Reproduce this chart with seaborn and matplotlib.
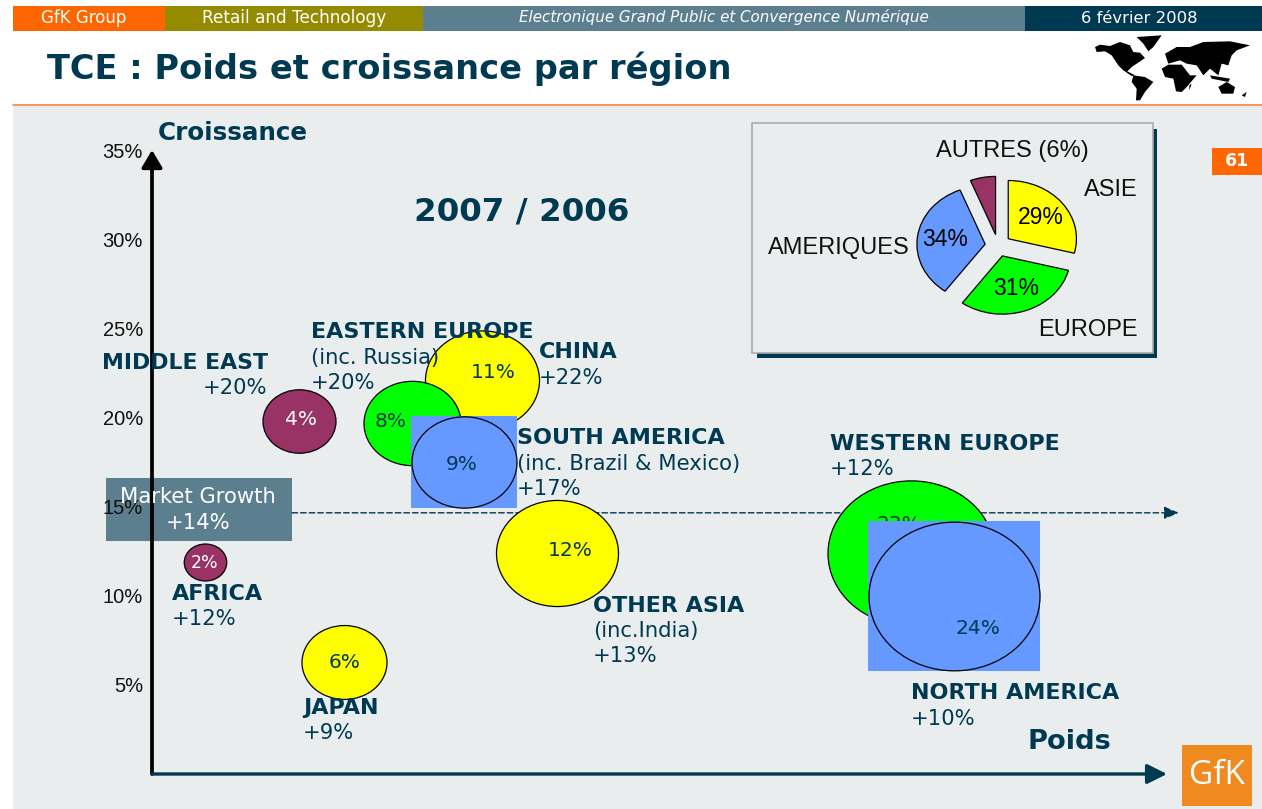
import matplotlib
matplotlib.use("Agg")
import matplotlib.pyplot as plt
import pandas as pd
import seaborn as sns
from matplotlib.patches import Polygon, Rectangle
from matplotlib.path import Path
from matplotlib.transforms import Affine2D

# bubble chart data
regions = ["Middle East", "Africa", "Japan", "Other Asia", "China", "Eastern Europe",
           "South America", "Western Europe", "North America"]
weight_pos = [14.5, 5.2, 18.9, 39.9, 32.5, 25.6, 30.7, 74.8, 79.0]
growth_pos = [19.8, 11.9, 6.3, 12.4, 22.1, 19.7, 17.5, 12.4, 10.0]
shares = [4, 2, 6, 12, 11, 8, 9, 23, 24]
groups = ["Autres", "Autres", "Asie", "Asie", "Asie", "Europe", "Ameriques", "Europe", "Ameriques"]
market_growth = 14.65

y_ticks = [5, 10, 15, 20, 25, 30, 35]
y_tick_labels = ["5%", "10%", "15%", "20%", "25%", "30%", "35%"]

# pie inset
pie_labels = ["ASIE", "EUROPE", "AMERIQUES", "AUTRES (6%)"]
pie_values = [29, 31, 34, 6]

NAVY = "#003a52"
SLATE = "#5b7f8f"
ORANGE = "#ff6600"
PANEL = "#e9edee"
group_colors = {"Asie": "#ffff00", "Europe": "#00ff00", "Ameriques": "#6699ff", "Autres": "#993366"}
# bubble width in pixels for each share
share_width = {2: 42.5, 4: 73, 6: 85, 8: 97, 9: 105, 11: 114, 12: 122, 23: 167, 24: 171}
# the two regions that have a blue box behind the bubble
boxed = ["South America", "North America"]

sns.set_theme(style="white")
plt.rcParams["font.family"] = ["DejaVu Sans"]

W, H = 1262, 809
fig = plt.figure(figsize=(W / 100, H / 100), dpi=100)
fig.patch.set_facecolor("white")


def axes_px(left, top, right, bottom, **kw):
    return fig.add_axes([left / W, 1 - bottom / H, (right - left) / W, (bottom - top) / H], **kw)


# background layer, pixel coordinates
bg = axes_px(0, 0, W, H, zorder=0)
bg.set_xlim(0, W)
bg.set_ylim(H, 0)
bg.axis("off")


def box(ax, x0, y0, x1, y1, color, **kw):
    ax.add_patch(Rectangle((x0, y0), x1 - x0, y1 - y0, facecolor=color, edgecolor=kw.pop("edgecolor", "none"), **kw))


box(bg, 13, 105, W, H, PANEL)
bg.plot([13, W], [104.5, 104.5], color="#ff7f3f", lw=1.2)
box(bg, 13, 6, 165, 31, ORANGE)
box(bg, 165, 6, 423, 31, "#948b00")
box(bg, 423, 6, 1025, 31, SLATE)
box(bg, 1025, 6, W, 31, NAVY)
box(bg, 1212, 148, 1262, 175, ORANGE)
box(bg, 1182, 745, 1252, 806, "#f08a20")
box(bg, 105.5, 478, 292, 541, SLATE)
# inset frame with its shadow
box(bg, 757, 129, 1157, 358, NAVY)
box(bg, 752, 123, 1153, 353, PANEL, edgecolor="#aaaaaa", linewidth=1.2)

# rough world map top right
world = [
    [(15, 45), (30, 38), (60, 42), (90, 30), (120, 40), (130, 60), (150, 62), (165, 78), (140, 95), (125, 105),
     (112, 118), (135, 130), (125, 132), (100, 115), (85, 100), (65, 70), (45, 58), (20, 60)],
    [(140, 15), (215, 10), (190, 45), (175, 58), (160, 35)],
    [(130, 130), (165, 135), (190, 150), (165, 180), (150, 205), (138, 205), (140, 170), (125, 150)],
    [(215, 110), (235, 98), (275, 98), (300, 130), (320, 130), (290, 165), (275, 180), (258, 178), (250, 140), (225, 135)],
    [(225, 65), (260, 45), (300, 45), (340, 30), (420, 28), (480, 40), (440, 55), (425, 70), (415, 100), (395, 95),
     (385, 130), (360, 110), (340, 130), (320, 100), (290, 95), (270, 85), (235, 95)],
    [(385, 165), (410, 150), (435, 165), (430, 185), (395, 185)],
    [(360, 130), (420, 140), (415, 150), (365, 140)],
    [(455, 190), (470, 180), (465, 195)],
    [(298, 160), (305, 155), (298, 175)],
]
for shape in world:
    bg.add_patch(Polygon([(1090 + a / 3, 32 + b / 3) for a, b in shape], closed=True, color="black", lw=0))

# main chart
ax = axes_px(152, 150, 1167, 774, zorder=1)
ax.patch.set_alpha(0)
ax.set_xlim(0, 100)
ax.set_ylim(0, 35)
sns.despine(ax=ax, left=True, bottom=True, top=True, right=True)
ax.set_xticks([])
ax.set_yticks(y_ticks)
ax.set_yticklabels(y_tick_labels, fontfamily="Liberation Sans", fontsize=14.5, color="#111111")
ax.tick_params(axis="y", length=0, pad=6.5)
ax.grid(False)

ax.annotate("", xy=(0, 1), xytext=(0, 0), xycoords="axes fraction",
            arrowprops=dict(arrowstyle="-|>,head_length=1.05,head_width=0.62", mutation_scale=10,
                            lw=2.7, color="black", shrinkA=0, shrinkB=0), zorder=30)
ax.annotate("", xy=(1, 0), xytext=(0, 0), xycoords="axes fraction",
            arrowprops=dict(arrowstyle="-|>,head_length=1.2,head_width=0.6", mutation_scale=10,
                            lw=2.4, color=NAVY, shrinkA=0, shrinkB=0), zorder=30)
ax.annotate("", xy=(1.0118, market_growth), xytext=(0.1379, market_growth),
            xycoords=("axes fraction", "data"),
            arrowprops=dict(arrowstyle="-|>,head_length=1.0,head_width=0.42", mutation_scale=9,
                            lw=1, ls=(0, (4, 2.2)), color=NAVY, shrinkA=0, shrinkB=0), zorder=0.5)

df = pd.DataFrame({"region": regions, "weight": weight_pos, "growth": growth_pos,
                   "share": shares, "group": groups})

RATIO = 1.15
ellipse = Path.unit_circle().transformed(Affine2D().scale(RATIO, 1))
rect = Path.unit_rectangle().transformed(Affine2D().translate(-0.5, -0.5).scale(RATIO, 1))

for i, row in df.iterrows():
    one = df.iloc[[i]]
    w_pt = share_width[row["share"]] * 0.72
    color = group_colors[row["group"]]
    if row["region"] in boxed:
        sns.scatterplot(data=one, x="weight", y="growth", ax=ax, marker=rect, s=(w_pt + 0.8) ** 2,
                        color=color, edgecolor="none", linewidth=0, legend=False, zorder=2 * i + 2.2, clip_on=False)
    sns.scatterplot(data=one, x="weight", y="growth", ax=ax, marker=ellipse, s=w_pt ** 2,
                    color=color, edgecolor="black", linewidth=0.9, legend=False, zorder=2 * i + 2.4, clip_on=False)
ax.set_xlim(0, 100)
ax.set_ylim(0, 35)
ax.set_xlabel("")
ax.set_ylabel("")

# top layer, pixel coordinates: every label
top = axes_px(0, 0, W, H, zorder=3)
top.patch.set_alpha(0)
top.set_xlim(0, W)
top.set_ylim(H, 0)
top.axis("off")

# share inside each bubble, drawn in the main axes so the next box can hide it
share_xy = [(301, 419), (205, 563), (345, 662), (570, 551), (493, 372), (391, 421), (462, 464), (899, 525), (978, 628)]
for i, (share, xy) in enumerate(zip(shares, share_xy)):
    ink = "white" if groups[i] == "Autres" else NAVY
    size = 12.5 if share == 2 else 14.5
    ax.text(xy[0], xy[1], f"{share}%", transform=top.transData, ha="center", va="center",
            fontsize=size, color=ink, zorder=2 * i + 3)


def label(x, y, s, bold=False, size=15.2, color=NAVY, ha="left", **kw):
    top.text(x, y, s, ha=ha, va="center", fontsize=size, color=color,
             fontweight="bold" if bold else "normal", **kw)


label(311, 332, "EASTERN EUROPE", True, 16)
label(311, 358, "(inc. Russia)")
label(311, 383, "+20%")
label(539, 352, "CHINA", True, 16)
label(539, 378, "+22%")
label(517, 438, "SOUTH AMERICA", True, 16)
label(517, 464, "(inc. Brazil & Mexico)")
label(517, 489, "+17%")
label(830, 444, "WESTERN EUROPE", True, 16)
label(830, 469, "+12%")
label(102, 363, "MIDDLE EAST", True, 15.8)
label(203, 388, "+20%")
label(172, 594, "AFRICA", True, 16)
label(172, 619, "+12%")
label(593, 606, "OTHER ASIA", True, 16)
label(593, 631, "(inc.India)")
label(593, 656, "+13%")
label(303, 708, "JAPAN", True, 16)
label(303, 733, "+9%")
label(911, 693, "NORTH AMERICA", True, 16)
label(911, 719, "+10%")
label(198, 497, "Market Growth", color="white", ha="center")
label(198, 523, "+14%", color="white", ha="center")
label(158, 133, "Croissance", True, 17.7)
label(1027, 742, "Poids", True, 19.7)
label(414, 212, "2007 / 2006", True, 23.4)
label(47, 69, "TCE : Poids et croissance par région", True, 24.2)

label(84, 18, "GfK Group", size=12, color="white", ha="center")
label(294, 18, "Retail and Technology", size=12.2, color="white", ha="center")
label(724, 17, "Electronique Grand Public et Convergence Numérique", size=10.9, color="white",
      ha="center", style="italic")
label(1139, 18, "6 février 2008", size=11.8, color="white", ha="center")
label(1237, 161, "61", True, 12.5, "white", "center")
label(1217, 775, "GfK", size=24, color="white", ha="center", family="Open Sans")

# pie inset
pie_ax = axes_px(902.5, 164, 1093.5, 327, zorder=2)
wedges, texts, autotexts = pie_ax.pie(
    pie_values, colors=[group_colors[g] for g in ["Asie", "Europe", "Ameriques", "Autres"]],
    explode=[0.19] * 4, startangle=90, counterclock=False, pctdistance=0.6,
    autopct=lambda p: f"{p:.0f}%" if p > 10 else "",
    wedgeprops=dict(edgecolor="black", linewidth=0.9),
    textprops=dict(fontfamily="Liberation Sans", fontsize=16.5, color="black"))
pie_ax.set_aspect("auto")
pie_ax.set_xlim(-1.4, 1.4)
pie_ax.set_ylim(-1.4, 1.4)

pie_label_xy = [(1138, 190, "right"), (1138, 330, "right"), (768, 248, "left"), (936, 151, "left")]
for name, (px, py, align) in zip(pie_labels, pie_label_xy):
    top.text(px, py, name, ha=align, va="center", fontsize=17, color="#111111", fontfamily="Liberation Sans")

fig.savefig("out.png", dpi=100)
